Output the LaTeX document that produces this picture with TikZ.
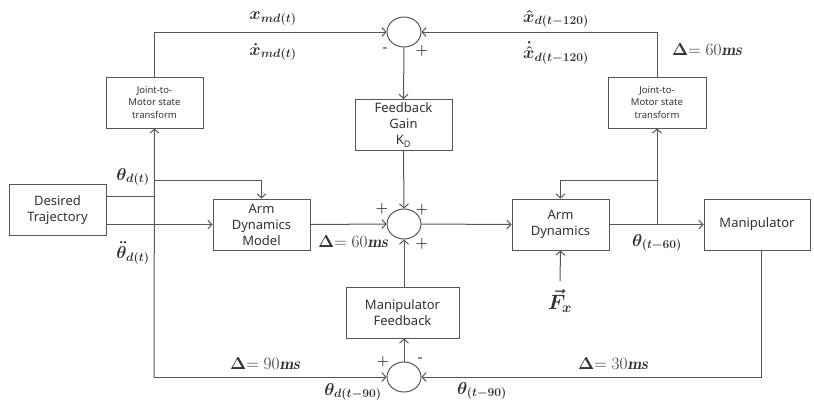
\documentclass[tikz,border=0pt]{standalone}
\usepackage{amsmath}
\usepackage{fontspec}
\setsansfont{Noto Sans}
\usepackage{tikz}
\usetikzlibrary{positioning, arrows.meta, calc, shapes.geometric}
\definecolor{wire}{HTML}{555555}
\definecolor{ink}{HTML}{333333}

\begin{document}
\begin{tikzpicture}[
  x=1pt, y=-1pt,
  font=\sffamily\fontsize{13}{16}\selectfont,
  every node/.style={align=center, text=ink},
  block/.style={rectangle, draw=wire, line width=1pt, fill=white,
                minimum width=97pt, minimum height=51pt, inner sep=2pt},
  small/.style={block, font=\sffamily\fontsize{9.5}{12.5}\selectfont},
  sum/.style={ellipse, draw=wire, line width=1pt, minimum width=34pt,
              minimum height=30pt, inner sep=0pt},
  arr/.style={-{Straight Barb[length=4pt, width=9pt]}, line width=1pt, draw=wire},
  wire/.style={line width=1pt, draw=wire},
  lab/.style={font=\fontsize{16.5}{18}\selectfont, inner sep=0pt},
  sign/.style={font=\fontsize{13.5}{14}\selectfont, inner sep=0pt},
  minus/.style={font=\sffamily\bfseries\fontsize{15}{15}\selectfont, inner sep=0pt}
]
  \useasboundingbox (0,0) rectangle (814,402);

  % blocks
  \node[block] (dt) at (57.5,210) {Desired\\Trajectory};
  \node[small] (jl) at (154.5,102.5) {Joint-to-\\Motor state\\transform};
  \node[small, minimum width=98pt] (jr) at (657,102.5) {Joint-to-\\Motor state\\transform};
  \node[block] (fg) at (403.5,125) {Feedback\\Gain\\K\textsubscript{D}};
  \node[block] (adm) at (261.5,224.5) {Arm\\Dynamics\\Model};
  \node[block] (ad) at (560.5,224.5) {Arm\\Dynamics};
  \node[block, minimum width=106pt] (man) at (757,224.5) {Manipulator};
  \node[block, minimum width=113pt] (mf) at (402.5,312.5) {Manipulator\\Feedback};

  % summing junctions
  \node[sum] (ct) at (404,32) {};
  \node[sum] (cm) at (404,224) {};
  \node[sum] (cb) at (404,377) {};

  % branch points
  \coordinate (spl) at (154,196);
  \coordinate (td) at (154,180);
  \coordinate (lb) at (154,377);
  \coordinate (j60) at (657,224);
  \coordinate (br) at (657,180);
  \coordinate (mb) at (761,250);
  \coordinate (fxt) at (560,281);

  % connectors
  \draw[wire] (dt.east |- spl) -- (spl);
  \draw[arr] (lb) -- (jl.south);
  \draw[arr] (jl.north) |- (ct.west);
  \draw[arr] (td) -| (adm.north);
  \draw[arr] (dt.east |- adm) -- (adm.west);
  \draw[arr] (adm.east) -- (cm.west);
  \draw[arr] (ct.south) -- (fg.north);
  \draw[arr] (fg.south) -- (cm.north);
  \draw[arr] (mf.north -| cm) -- (cm.south);
  \draw[arr] (cb.north) -- (mf.south -| cb);
  \draw[arr] (lb) -- (cb.west);
  \draw[arr] (mb) |- (cb.east);
  \draw[arr] (cm.east) -- (ad.west);
  \draw[arr] (ad.east) -- (man.west);
  \draw[arr] (j60) -- (jr.south);
  \draw[arr] (jr.north) |- (ct.east);
  \draw[arr] (br) -| (ad.north);
  \draw[arr] (fxt) -- (ad.south);

  % signal labels
  \node[lab, font=\fontsize{20}{22}\selectfont] (fx) at (560,301) {$\boldsymbol{\vec{F}_x}$};
  \node[lab] (xm) at (273,19) {$\boldsymbol{x_{md(t)}}$};
  \node[lab] (xmd) at (273,52) {$\boldsymbol{\dot{x}_{md(t)}}$};
  \node[lab] (xh) at (556,19) {$\boldsymbol{\hat{x}_{d(t-120)}}$};
  \node[lab] (xhd) at (556,53) {$\boldsymbol{\dot{\hat{x}}_{d(t-120)}}$};
  \node[lab] (d60a) at (707,50) {$\boldsymbol{\Delta}\mathord{=}\;60\boldsymbol{\mathit{ms}}$};
  \node[lab] (th) at (133,177) {$\boldsymbol{\theta_{d(t)}}$};
  \node[lab] (thdd) at (133,253) {$\boldsymbol{\ddot{\theta}_{d(t)}}$};
  \node[lab] (d60b) at (353,242) {$\boldsymbol{\Delta}\mathord{=}\;60\boldsymbol{\mathit{ms}}$};
  \node[lab] (t60) at (657,243) {$\boldsymbol{\theta_{(t-60)}}$};
  \node[lab] (d90) at (265,364) {$\boldsymbol{\Delta}\mathord{=}\;90\boldsymbol{\mathit{ms}}$};
  \node[lab] (d30) at (613,364) {$\boldsymbol{\Delta}\mathord{=}\;30\boldsymbol{\mathit{ms}}$};
  \node[lab] (t90d) at (353,392) {$\boldsymbol{\theta_{d(t-90)}}$};
  \node[lab] (t90) at (482,391) {$\boldsymbol{\theta_{(t-90)}}$};

  % signs
  \node[minus] (s1) at (385,50) {-};
  \node[sign] (s2) at (422,51) {$\boldsymbol{+}$};
  \node[sign] (s3) at (382,209) {$\boldsymbol{+}$};
  \node[sign] (s4) at (422,210) {$\boldsymbol{+}$};
  \node[sign] (s5) at (422,244) {$\boldsymbol{+}$};
  \node[sign] (s6) at (383,362) {$\boldsymbol{+}$};
  \node[minus] (s7) at (420,360) {-};
\end{tikzpicture}
\end{document}
